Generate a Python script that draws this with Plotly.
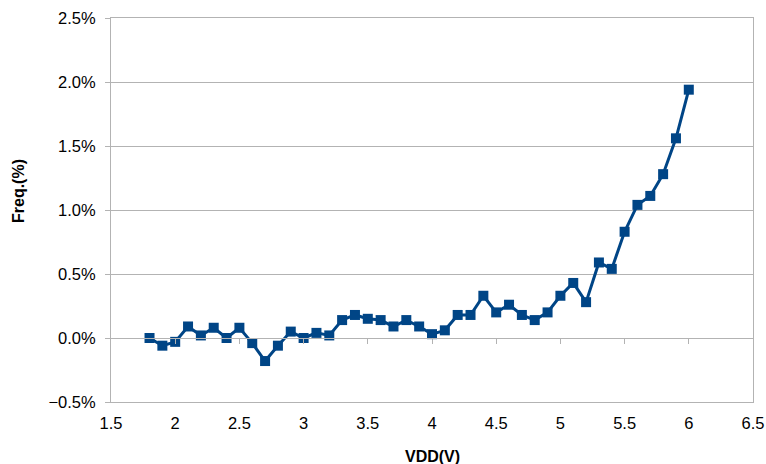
import plotly.graph_objects as go

vdd = [1.8, 1.9, 2.0, 2.1, 2.2, 2.3, 2.4, 2.5, 2.6, 2.7, 2.8, 2.9, 3.0, 3.1, 3.2,
       3.3, 3.4, 3.5, 3.6, 3.7, 3.8, 3.9, 4.0, 4.1, 4.2, 4.3, 4.4, 4.5, 4.6, 4.7,
       4.8, 4.9, 5.0, 5.1, 5.2, 5.3, 5.4, 5.5, 5.6, 5.7, 5.8, 5.9, 6.0]
freq = [0.00, -0.06, -0.03, 0.09, 0.02, 0.08, 0.00, 0.08, -0.04, -0.18, -0.06, 0.05, 0.00, 0.04, 0.02,
        0.14, 0.18, 0.15, 0.14, 0.09, 0.14, 0.09, 0.03, 0.06, 0.18, 0.18, 0.33, 0.20, 0.26, 0.18,
        0.14, 0.20, 0.33, 0.43, 0.28, 0.59, 0.54, 0.83, 1.04, 1.11, 1.28, 1.56, 1.94]
x_ticks_on_zero = [2, 2.5, 3, 3.5, 4, 4.5, 5, 5.5, 6]

LINE = "#004586"
GRID = "#b3b3b3"
FONT = "Liberation Sans, Arial, sans-serif"
TICK_SIZE = 16.5
TITLE_SIZE = 16

fig = go.Figure()
fig.add_trace(go.Scatter(
    x=vdd, y=freq, mode="lines+markers",
    line=dict(color=LINE, width=3),
    marker=dict(symbol="square", size=10, color=LINE),
    showlegend=False, hoverinfo="x+y",
))
# invisible trace on the axis that crosses at y=0
fig.add_trace(go.Scatter(x=[], y=[], xaxis="x2", yaxis="y", showlegend=False))

fig.update_layout(
    width=766, height=464,
    margin=dict(l=111, r=13, t=18, b=62, autoexpand=False),
    paper_bgcolor="white", plot_bgcolor="white",
    font=dict(family=FONT, size=TICK_SIZE, color="#000000"),
    xaxis=dict(
        range=[1.5, 6.5], dtick=0.5, tick0=1.5, automargin=False,
        showgrid=False, zeroline=False,
        showline=True, linecolor=GRID, linewidth=1, mirror=True,
        ticks="", ticklabelstandoff=6,
        tickfont=dict(size=TICK_SIZE, color="#000000"),
    ),
    xaxis2=dict(
        overlaying="x", matches="x", anchor="free", position=0.5 / 3.0,
        range=[1.5, 6.5], tickvals=x_ticks_on_zero, automargin=False,
        showticklabels=False, showgrid=False, zeroline=False,
        showline=True, linecolor=GRID, linewidth=1,
        ticks="outside", ticklen=5, tickcolor=GRID, side="bottom",
    ),
    yaxis=dict(
        range=[-0.5, 2.5], dtick=0.5, tick0=-0.5, automargin=False,
        tickformat=".1f", ticksuffix="%",
        showgrid=True, gridcolor=GRID, gridwidth=1, zeroline=False,
        showline=True, linecolor=GRID, linewidth=1, mirror=True,
        ticks="outside", ticklen=5, tickcolor=GRID, ticklabelstandoff=6,
        tickfont=dict(size=TICK_SIZE, color="#000000"),
    ),
    annotations=[
        dict(text="<b>VDD(V)</b>", xref="paper", yref="paper",
             x=0.5, y=(402 - 456) / 384.0, xanchor="center", yanchor="middle",
             showarrow=False, font=dict(family=FONT, size=TITLE_SIZE, color="#000000")),
        dict(text="<b>Freq.(%)</b>", xref="paper", yref="paper",
             x=(18 - 111) / 642.0, y=(402 - 191) / 384.0, xanchor="center", yanchor="middle",
             textangle=-90,
             showarrow=False, font=dict(family=FONT, size=TITLE_SIZE, color="#000000")),
    ],
)

fig.write_html("out.html", config={"displayModeBar": False},
               post_script="document.body.style.margin='0';document.body.style.padding='0';")
